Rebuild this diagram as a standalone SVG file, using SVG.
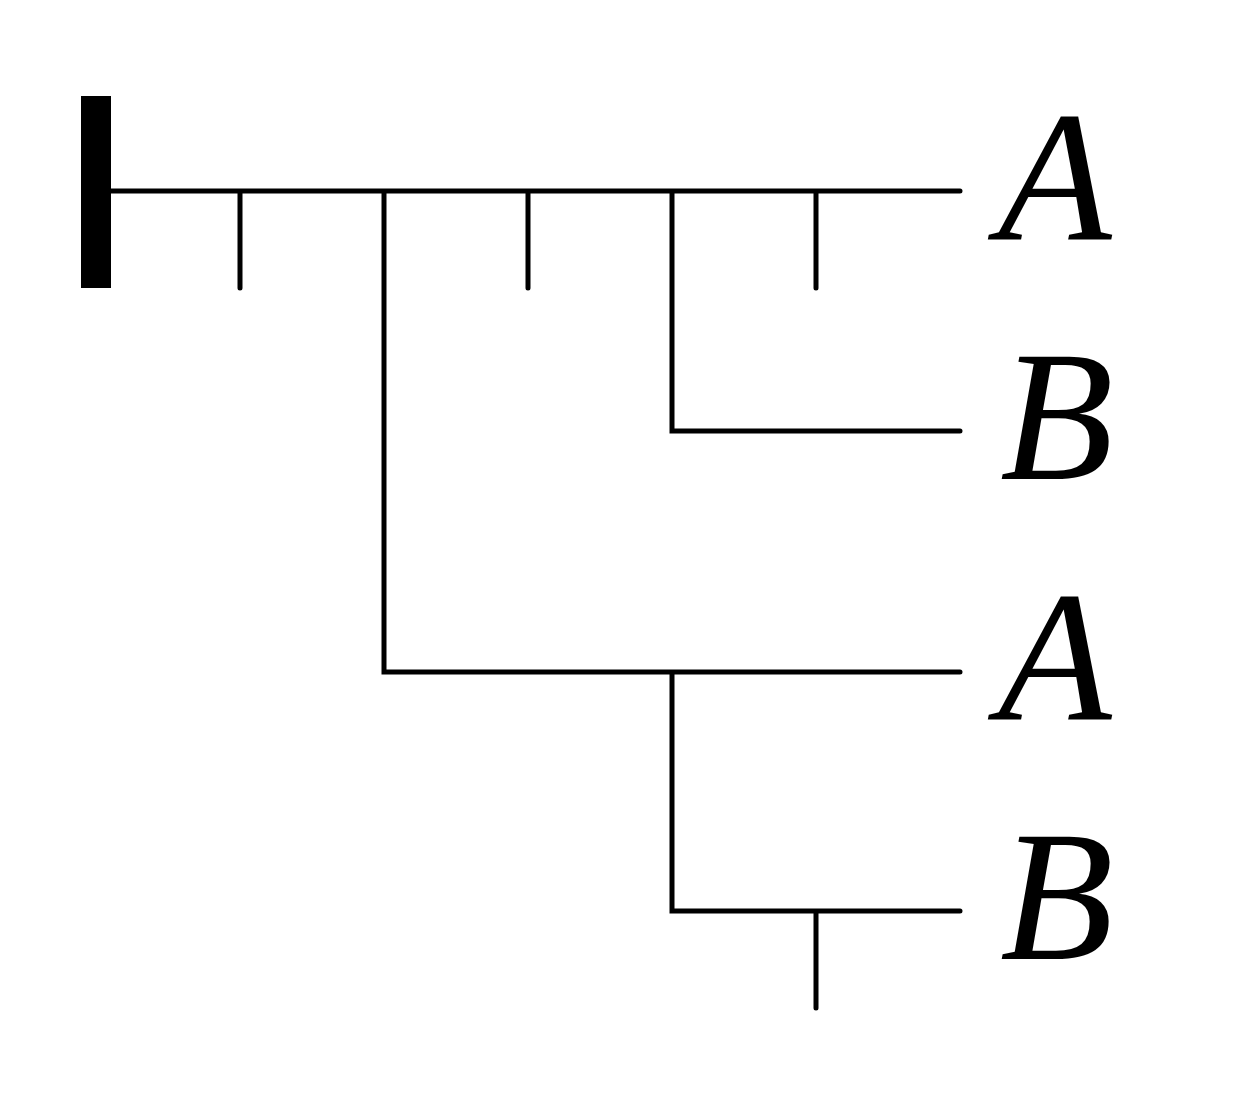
<svg xmlns="http://www.w3.org/2000/svg" width="1248" height="1104" viewBox="0 0 1248 1104">
<style>
.l{stroke:#000;stroke-width:5;stroke-linecap:round;fill:none}
.t{font-family:"Liberation Serif",serif;font-style:italic;font-size:186px;fill:#000}
</style>
<rect width="1248" height="1104" fill="#fff"/>
<g id="root"><rect x="81" y="96" width="30" height="192" fill="#000"/></g>
<g id="connectors">
<path class="l" d="M111 191H960M240 191V288M528 191V288M816 191V288M384 191V672H960M672 191V431H960M672 672V911H960M816 911V1008"/>
</g>
<g id="n1"><text class="t" x="998" y="240">A</text></g>
<g id="n2"><text class="t" x="1000" y="479">B</text></g>
<g id="n3"><text class="t" x="998" y="720">A</text></g>
<g id="n4"><text class="t" x="1000" y="959">B</text></g>
</svg>
